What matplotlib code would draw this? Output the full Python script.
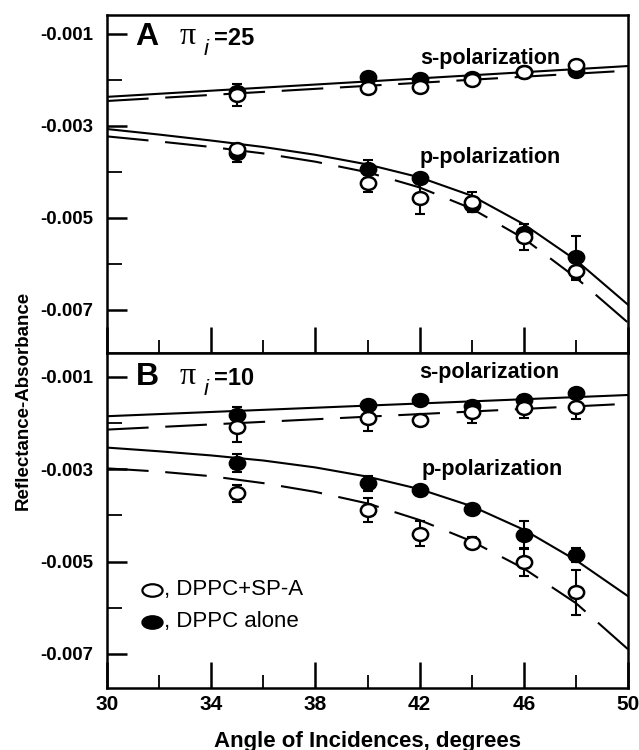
import matplotlib
matplotlib.use("Agg")
import matplotlib.pyplot as plt
from matplotlib import font_manager
from matplotlib.path import Path
from matplotlib.transforms import Affine2D
import numpy as np

plt.rcParams['font.family'] = ['Liberation Sans', 'DejaVu Sans']

# angles of incidence for the measured points, degrees
angles = [35, 40, 42, 44, 46, 48]

# all reflectance-absorbance values below are in units of 1e-3
# panel A, pi_i = 25
a_s_alone = [-2.26, -1.94, -1.98, -1.96, -1.83, -1.80]
a_s_alone_err = [0.05, 0.05, 0.05, 0.05, 0.05, 0.05]
a_s_spa = [-2.33, -2.18, -2.15, -2.00, -1.84, -1.67]
a_s_spa_err = [0.24, 0.05, 0.05, 0.05, 0.05, 0.05]
a_p_alone = [-3.59, -3.94, -4.14, -4.72, -5.33, -5.85]
a_p_alone_err = [0.19, 0.20, 0.05, 0.15, 0.05, 0.46]
a_p_spa = [-3.51, -4.25, -4.57, -4.65, -5.42, -6.15]
a_p_spa_err = [0.05, 0.18, 0.34, 0.22, 0.28, 0.20]

# panel B, pi_i = 10
b_s_alone = [-1.82, -1.60, -1.50, -1.62, -1.50, -1.34]
b_s_alone_err = [0.18, 0.08, 0.10, 0.08, 0.11, 0.08]
b_s_spa = [-2.08, -1.89, -1.94, -1.76, -1.67, -1.65]
b_s_spa_err = [0.33, 0.29, 0.12, 0.24, 0.22, 0.26]
b_p_alone = [-2.86, -3.30, -3.45, -3.86, -4.42, -4.86]
b_p_alone_err = [0.20, 0.16, 0.05, 0.05, 0.31, 0.16]
b_p_spa = [-3.52, -3.88, -4.40, -4.59, -5.01, -5.67]
b_p_spa_err = [0.19, 0.26, 0.27, 0.12, 0.31, 0.48]

# fitted curves
s_line_x = [30, 50]
fit_x = [30, 32, 34, 36, 38, 40, 42, 44, 46, 48, 50]
a_s_fit_alone = [-2.37, -1.70]
a_s_fit_spa = [-2.46, -1.80]
a_p_fit_alone = [-3.07, -3.19, -3.32, -3.46, -3.63, -3.84, -4.12, -4.52, -5.14, -5.92, -6.89]
a_p_fit_spa = [-3.23, -3.34, -3.46, -3.60, -3.78, -4.01, -4.34, -4.80, -5.45, -6.30, -7.28]
b_s_fit_alone = [-1.85, -1.39]
b_s_fit_spa = [-2.14, -1.58]
b_p_fit_alone = [-2.53, -2.61, -2.70, -2.81, -2.96, -3.16, -3.43, -3.80, -4.31, -4.97, -5.75]
b_p_fit_spa = [-2.98, -3.05, -3.15, -3.30, -3.49, -3.74, -4.10, -4.56, -5.15, -5.90, -6.90]

x_major = [30, 34, 38, 42, 46, 50]
x_minor = [32, 36, 40, 44, 48]
y_major = [-0.007, -0.005, -0.003, -0.001]
y_major_labels = ['-0.007', '-0.005', '-0.003', '-0.001']
y_minor = [-0.006, -0.004, -0.002]

W, H = 639, 750
fig = plt.figure(figsize=(W / 100, H / 100), dpi=100)

# slightly flattened circle, like the markers of the original
ell = Path.unit_circle().transformed(Affine2D().scale(1.0, 0.84))
ell_wide = Path.unit_circle().transformed(Affine2D().scale(1.0, 0.62))
DASH = (0, (20, 8))

# the y label of the original is set in a condensed face
installed = {f.name for f in font_manager.fontManager.ttflist}
if 'Liberation Sans Narrow' in installed:
    ylabel_font, ylabel_size = 'Liberation Sans Narrow', 16.5
else:
    ylabel_font, ylabel_size = 'Liberation Sans', 13.5


def px_axes(x0, y0, x1, y1):
    return fig.add_axes([x0 / W, 1 - y1 / H, (x1 - x0) / W, (y1 - y0) / H])


def fig_text(px, py, s, **kw):
    fig.text(px / W, 1 - py / H, s, **kw)


def draw_points(ax, y, err, filled):
    y = np.asarray(y) * 1e-3
    err = np.asarray(err) * 1e-3
    ax.errorbar(angles, y, yerr=err, fmt='none', ecolor='black',
                elinewidth=1.5, capsize=3.6, capthick=1.5, zorder=3)
    ax.plot(angles, y, linestyle='none', marker=ell, markersize=11,
            markerfacecolor='black' if filled else 'white',
            markeredgecolor='black', markeredgewidth=1.8,
            zorder=4 if filled else 5)


def draw_fit(ax, x, y, dashed):
    ax.plot(x, np.asarray(y) * 1e-3, color='black', lw=1.5,
            linestyle=DASH if dashed else '-', zorder=2)


def style_axes(ax, ylim):
    ax.set_xlim(30, 50)
    ax.set_ylim(*ylim)
    ax.set_xticks(x_major)
    ax.set_xticks(x_minor, minor=True)
    ax.set_yticks(y_major)
    ax.set_yticklabels(y_major_labels)
    ax.set_yticks(y_minor, minor=True)
    ax.tick_params(which='both', direction='in', top=False, right=False, color='black')
    ax.tick_params(axis='x', which='major', length=19, width=1.8, pad=5, labelsize=15)
    ax.tick_params(axis='x', which='minor', length=9.5, width=1.3)
    ax.tick_params(axis='y', which='major', length=14.5, width=1.8, pad=10, labelsize=13.5)
    ax.tick_params(axis='y', which='minor', length=11, width=1.3)
    for lab in ax.get_xticklabels() + ax.get_yticklabels():
        lab.set_fontweight('bold')
    for sp in ax.spines.values():
        sp.set_linewidth(1.8)


ax_a = px_axes(107, 15, 628, 353)
ax_b = px_axes(107, 353, 628, 688)

# panel A
draw_fit(ax_a, s_line_x, a_s_fit_alone, False)
draw_fit(ax_a, s_line_x, a_s_fit_spa, True)
draw_fit(ax_a, fit_x, a_p_fit_alone, False)
draw_fit(ax_a, fit_x, a_p_fit_spa, True)
draw_points(ax_a, a_s_alone, a_s_alone_err, True)
draw_points(ax_a, a_s_spa, a_s_spa_err, False)
draw_points(ax_a, a_p_alone, a_p_alone_err, True)
draw_points(ax_a, a_p_spa, a_p_spa_err, False)
style_axes(ax_a, (-0.00794, -0.00059))
ax_a.tick_params(axis='x', labelbottom=False)

# panel B
draw_fit(ax_b, s_line_x, b_s_fit_alone, False)
draw_fit(ax_b, s_line_x, b_s_fit_spa, True)
draw_fit(ax_b, fit_x, b_p_fit_alone, False)
draw_fit(ax_b, fit_x, b_p_fit_spa, True)
draw_points(ax_b, b_s_alone, b_s_alone_err, True)
draw_points(ax_b, b_s_spa, b_s_spa_err, False)
draw_points(ax_b, b_p_alone, b_p_alone_err, True)
draw_points(ax_b, b_p_spa, b_p_spa_err, False)
style_axes(ax_b, (-0.00774, -0.00048))

# panel headers
for letter, value, base in (('A', '=25', 45), ('B', '=10', 385)):
    fig_text(147, base, letter, fontsize=23, fontweight='bold', ha='center', va='baseline')
    fig_text(188, base - 1, '\u03c0', family='Liberation Serif', fontsize=23, ha='center', va='baseline')
    fig_text(206, base + 10, 'i', fontsize=16, style='italic', ha='center', va='baseline')
    fig_text(214, base, value, fontsize=17, fontweight='bold', ha='left', va='baseline')

fig_text(490, 58.5, 's-polarization', fontsize=15.5, fontweight='bold', ha='center', va='center')
fig_text(490, 157.5, 'p-polarization', fontsize=15.5, fontweight='bold', ha='center', va='center')
fig_text(489, 372.5, 's-polarization', fontsize=15.5, fontweight='bold', ha='center', va='center')
fig_text(492, 469, 'p-polarization', fontsize=15.5, fontweight='bold', ha='center', va='center')

# hand-made legend
for py, face, label in ((590, 'white', ', DPPC+SP-A'), (622, 'black', ', DPPC alone')):
    ax_b.plot([152 / W], [1 - py / H], transform=fig.transFigure, clip_on=False,
              linestyle='none', marker=ell_wide, markersize=14.5,
              markerfacecolor=face, markeredgecolor='black', markeredgewidth=1.6)
    fig_text(164, py, label, fontsize=16, ha='left', va='center')

fig_text(367, 741, 'Angle of Incidences, degrees', fontsize=16, fontweight='bold',
         ha='center', va='center')
fig_text(23, 400, 'Reflectance-Absorbance', family=ylabel_font, fontsize=ylabel_size,
         fontweight='bold', rotation=90, ha='center', va='center')

fig.savefig('out.png', dpi=100)
